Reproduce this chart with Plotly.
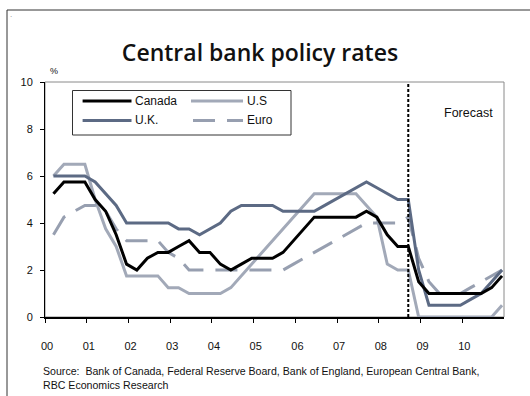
import plotly.graph_objects as go

# Quarterly policy rates, 2000Q1-2010Q4 (2008Q4 onward is forecast), %
years = list(range(2000, 2011))
quarter_months = [3, 6, 9, 12]
quarters = [f"{y}-{m:02d}-15" for y in years for m in quarter_months]

canada = [5.25, 5.75, 5.75, 5.75, 5.0, 4.5, 3.5, 2.25,
          2.0, 2.5, 2.75, 2.75, 3.0, 3.25, 2.75, 2.75,
          2.25, 2.0, 2.25, 2.5, 2.5, 2.5, 2.75, 3.25,
          3.75, 4.25, 4.25, 4.25, 4.25, 4.25, 4.5, 4.25,
          3.5, 3.0, 3.0, 1.5, 1.0, 1.0, 1.0, 1.0,
          1.0, 1.0, 1.25, 1.75]
us = [6.0, 6.5, 6.5, 6.5, 5.0, 3.75, 3.0, 1.75,
      1.75, 1.75, 1.75, 1.25, 1.25, 1.0, 1.0, 1.0,
      1.0, 1.25, 1.75, 2.25, 2.75, 3.25, 3.75, 4.25,
      4.75, 5.25, 5.25, 5.25, 5.25, 5.25, 4.75, 4.25,
      2.25, 2.0, 2.0, 0.0, 0.0, 0.0, 0.0, 0.0,
      0.0, 0.0, 0.0, 0.5]
uk = [6.0, 6.0, 6.0, 6.0, 5.75, 5.25, 4.75, 4.0,
      4.0, 4.0, 4.0, 4.0, 3.75, 3.75, 3.5, 3.75,
      4.0, 4.5, 4.75, 4.75, 4.75, 4.75, 4.5, 4.5,
      4.5, 4.5, 4.75, 5.0, 5.25, 5.5, 5.75, 5.5,
      5.25, 5.0, 5.0, 2.0, 0.5, 0.5, 0.5, 0.5,
      0.75, 1.0, 1.5, 2.0]
euro = [3.5, 4.25, 4.5, 4.75, 4.75, 4.5, 3.75, 3.25,
        3.25, 3.25, 3.25, 2.75, 2.5, 2.0, 2.0, 2.0,
        2.0, 2.0, 2.0, 2.0, 2.0, 2.0, 2.0, 2.25,
        2.5, 2.75, 3.0, 3.25, 3.5, 3.75, 4.0, 4.0,
        4.0, 4.0, 4.25, 2.5, 1.5, 1.0, 1.0, 1.0,
        1.25, 1.5, 1.75, 2.0]

forecast_start = "2008-09-15"
year_ticks = [f"{y}-01-01" for y in years]
year_labels = [f"{y % 100:02d}" for y in years]
y_ticks = [0, 2, 4, 6, 8, 10]

series = [
    ("U.S", us, "#a2a9b8", "solid"),
    ("Euro", euro, "#979fb0", "22px,12px"),
    ("U.K.", uk, "#5c6a84", "solid"),
    ("Canada", canada, "#000000", "solid"),
]

FONT = "Liberation Sans, Arial, sans-serif"
W, H = 530, 396
L, R, T, B = 45, 26, 82, 79
PW, PH = W - L - R, H - T - B


def xp(px):
    return (px - L) / PW


def yp(py):
    return (T + PH - py) / PH


fig = go.Figure()
for name, vals, color, dash in series:
    fig.add_trace(go.Scatter(
        x=quarters, y=vals, mode="lines", name=name,
        line=dict(color=color, width=3, dash=dash),
        showlegend=False,
    ))

shapes = [
    # outer frame
    dict(type="rect", xref="paper", yref="paper",
         x0=xp(7), x1=xp(540), y0=yp(10), y1=yp(410),
         line=dict(color="#333333", width=1)),
    # plot area border (top/right)
    dict(type="rect", xref="paper", yref="paper", x0=0, x1=1, y0=0, y1=1,
         line=dict(color="#8a8a8a", width=1), layer="below"),
    # forecast divider
    dict(type="line", xref="x", yref="paper", x0=forecast_start, x1=forecast_start,
         y0=0, y1=1, line=dict(color="#000000", width=2, dash="3px,2px")),
    # legend box
    dict(type="rect", xref="paper", yref="paper",
         x0=xp(72.5), x1=xp(291), y0=yp(90.5), y1=yp(135),
         line=dict(color="#333333", width=1), fillcolor="#ffffff"),
]

annotations = []
legend_slots = {
    "Canada": (82.6, 131.5, 101),
    "U.S": (191, 243, 101),
    "U.K.": (82.6, 131.5, 120.4),
    "Euro": (193, 243, 120.4),
}
for name, vals, color, dash in series:
    x0, x1, yy = legend_slots[name]
    shapes.append(dict(type="line", xref="paper", yref="paper",
                       x0=xp(x0), x1=xp(x1), y0=yp(yy), y1=yp(yy),
                       line=dict(color=color, width=3, dash=dash)))
    annotations.append(dict(text=name, xref="paper", yref="paper",
                            x=xp(x1 + 1.5), y=yp(yy), xanchor="left", yanchor="middle",
                            showarrow=False, font=dict(family=FONT, size=12, color="#111111")))

annotations += [
    dict(text="Forecast", xref="paper", yref="paper", x=xp(468), y=yp(113),
         xanchor="center", yanchor="middle", showarrow=False,
         font=dict(family=FONT, size=12.5, color="#111111")),
    dict(text="%", xref="paper", yref="paper", x=xp(54), y=yp(71),
         xanchor="center", yanchor="middle", showarrow=False,
         font=dict(family=FONT, size=9, color="#111111")),
    dict(text="Source:  Bank of Canada, Federal Reserve Board, Bank of England, European Central Bank,"
              "<br>RBC Economics Research",
         xref="paper", yref="paper", x=xp(41), y=yp(377.5), xanchor="left", yanchor="middle",
         align="left", showarrow=False,
         font=dict(family=FONT, size=10.6, color="#111111")),
    dict(text=".", xref="paper", yref="paper", x=xp(11), y=yp(15),
         xanchor="center", yanchor="middle", showarrow=False,
         font=dict(family=FONT, size=8, color="#888888")),
]

fig.update_layout(
    width=W, height=H,
    margin=dict(l=L, r=R, t=T, b=B),
    paper_bgcolor="#ffffff", plot_bgcolor="#ffffff",
    title=dict(text="Central bank policy rates", x=260 / W, xanchor="center",
               y=1 - 53 / H, yanchor="middle",
               font=dict(family="Open Sans, sans-serif", size=23, color="#111111", weight=600)),
    shapes=shapes, annotations=annotations,
    xaxis=dict(
        type="date", range=["2000-01-01", "2011-01-01"],
        tickvals=year_ticks, ticktext=year_labels,
        ticks="outside", ticklen=4, tickcolor="#000000",
        showline=True, linecolor="#000000", linewidth=2,
        showgrid=False, zeroline=False, ticklabelstandoff=14, ticklabelshift=2,
        tickfont=dict(family=FONT, size=11, color="#111111"),
    ),
    yaxis=dict(
        range=[0, 10], tickvals=y_ticks,
        ticks="outside", ticklen=4, tickcolor="#000000",
        showline=True, linecolor="#000000", linewidth=1,
        showgrid=False, zeroline=False, ticklabelstandoff=5,
        tickfont=dict(family=FONT, size=11, color="#111111"),
    ),
)

fig.write_html("out.html")
